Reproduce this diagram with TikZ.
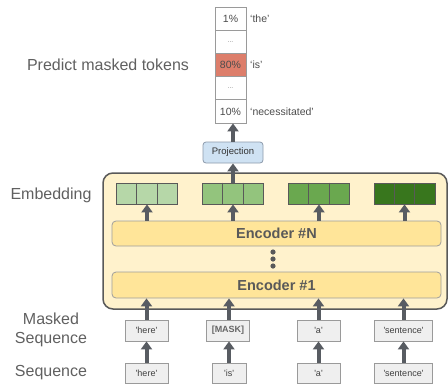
\documentclass[tikz,border=0pt]{standalone}
\usepackage{fontspec}
\setmainfont{Liberation Sans}
\usetikzlibrary{arrows.meta,calc}
\definecolor{ink}{HTML}{595959}
\definecolor{arrowc}{HTML}{585C62}
\definecolor{labelc}{HTML}{606060}
\definecolor{tokfill}{HTML}{EFEFEF}
\definecolor{tokline}{HTML}{9A9A9A}
\definecolor{outerfill}{HTML}{FFF2CC}
\definecolor{encfill}{HTML}{FFE599}
\definecolor{projfill}{HTML}{CFE2F3}
\definecolor{projline}{HTML}{8C9AAA}
\definecolor{hotcell}{HTML}{DD7E6B}
\definecolor{gA}{HTML}{B6D7A8}
\definecolor{gB}{HTML}{93C47D}
\definecolor{gC}{HTML}{6AA84F}
\definecolor{gD}{HTML}{38761D}
\begin{document}
\begin{tikzpicture}[x=1pt,y=-1pt,
  sidelabel/.style={text=labelc, font=\fontsize{16}{19}\selectfont, align=center, inner sep=0},
  tok/.style={draw=tokline, fill=tokfill, line width=0.8pt, minimum height=21pt, inner sep=0,
    text=black!75, font=\fontsize{9}{10}\selectfont},
  arr/.style={draw=arrowc, line width=4pt, -{Triangle[length=8pt,width=11pt]}},
  emb/.style={draw=ink, line width=0.8pt, minimum width=61pt, minimum height=21pt, inner sep=0},
  encbar/.style={draw=black!38, fill=encfill, line width=0.8pt, rounded corners=4pt,
    minimum width=329pt, inner sep=0, text=ink, font=\fontsize{14.5}{16}\selectfont\bfseries},
  pcell/.style={draw=tokline, fill=white, line width=0.8pt, minimum width=31pt, minimum height=23.2pt,
    inner sep=0, text=black!70, font=\fontsize{10.5}{12}\selectfont},
  plabel/.style={anchor=west, inner sep=0, text=black!70, font=\fontsize{10.5}{12}\selectfont},
  dotc/.style={fill=ink, draw=none}
]
\useasboundingbox (0,0) rectangle (448,384);

% side labels
\node[sidelabel] (lpred) at (108,65) {Predict masked tokens};
\node[sidelabel] (lemb) at (51,195) {Embedding};
\node[sidelabel] (lmask) at (51,330) {Masked\\Sequence};
\node[sidelabel] (lseq) at (51,373) {Sequence};

% output probabilities
\node[pcell] (p1) at (230.5,18.6) {1\%};
\node[pcell] (p2) at (230.5,41.8) {\fontsize{7}{8}\selectfont\textcolor{black!45}{...}};
\node[pcell, fill=hotcell] (p3) at (230.5,65) {80\%};
\node[pcell] (p4) at (230.5,88.2) {\fontsize{7}{8}\selectfont\textcolor{black!45}{...}};
\node[pcell] (p5) at (230.5,111.4) {10\%};
\node[plabel] (w1) at (250,18.6) {‘the’};
\node[plabel] (w3) at (250,65) {‘is’};
\node[plabel] (w5) at (250,111.4) {‘necessitated’};

% projection head
\node[draw=projline, fill=projfill, line width=0.8pt, rounded corners=3pt, minimum width=60pt,
  minimum height=21pt, inner sep=0, text=black!80, font=\fontsize{9.5}{11}\selectfont]
  (proj) at (233,152.5) {Projection};

% encoder stack
\node[draw=ink, fill=outerfill, line width=1.5pt, rounded corners=10pt, minimum width=344pt,
  minimum height=136pt, inner sep=0] (outer) at (275,241) {};
\node[encbar, minimum height=25pt] (encN) at (276.5,233.5) {Encoder \#N};
\node[encbar, minimum height=26pt] (enc1) at (276.5,285) {Encoder \#1};
\fill[dotc] (273,252) circle (2.6pt);
\fill[dotc] (273,259) circle (2.6pt);
\fill[dotc] (273,266) circle (2.6pt);

% embeddings
\node[emb, fill=gA] (e1) at (147,193.5) {};
\node[emb, fill=gB] (e2) at (233,193.5) {};
\node[emb, fill=gC] (e3) at (319,193.5) {};
\node[emb, fill=gD] (e4) at (404.5,193.5) {};
\foreach \g in {e1,e2,e3,e4}{
  \draw[ink, line width=0.8pt] ([xshift=-10.17pt]\g.north) -- ([xshift=-10.17pt]\g.south);
  \draw[ink, line width=0.8pt] ([xshift=10.17pt]\g.north) -- ([xshift=10.17pt]\g.south);
}

% token sequences
\node[tok, minimum width=43pt] (m1) at (146.5,330.5) {\textquotesingle here\textquotesingle};
\node[tok, minimum width=43pt, text=black!60, font=\fontsize{9}{10}\selectfont\bfseries] (m2) at (228,330.5) {[MASK]};
\node[tok, minimum width=43pt] (m3) at (318.5,330.5) {\textquotesingle a\textquotesingle};
\node[tok, minimum width=58pt] (m4) at (403.5,330.5) {\textquotesingle sentence\textquotesingle};
\node[tok, minimum width=43pt, minimum height=20pt] (s1) at (146.5,373) {\textquotesingle here\textquotesingle};
\node[tok, minimum width=34pt, minimum height=20pt] (s2) at (229,373) {\textquotesingle is\textquotesingle};
\node[tok, minimum width=43pt, minimum height=20pt] (s3) at (318.5,373) {\textquotesingle a\textquotesingle};
\node[tok, minimum width=58pt, minimum height=20pt] (s4) at (403.5,373) {\textquotesingle sentence\textquotesingle};

% connectors
\foreach \k in {1,2,3,4}{
  \draw[arr] (s\k.north) -- (s\k.north |- m\k.south);
  \draw[arr] (s\k.north |- m\k.north) -- (s\k.north |- enc1.south);
  \draw[arr] (encN.north -| e\k) -- (e\k.south);
}
\draw[arr] (e2.north) -- (proj.south);
\draw[arr] (proj.north) -- (proj.north |- p5.south);
\end{tikzpicture}
\end{document}
